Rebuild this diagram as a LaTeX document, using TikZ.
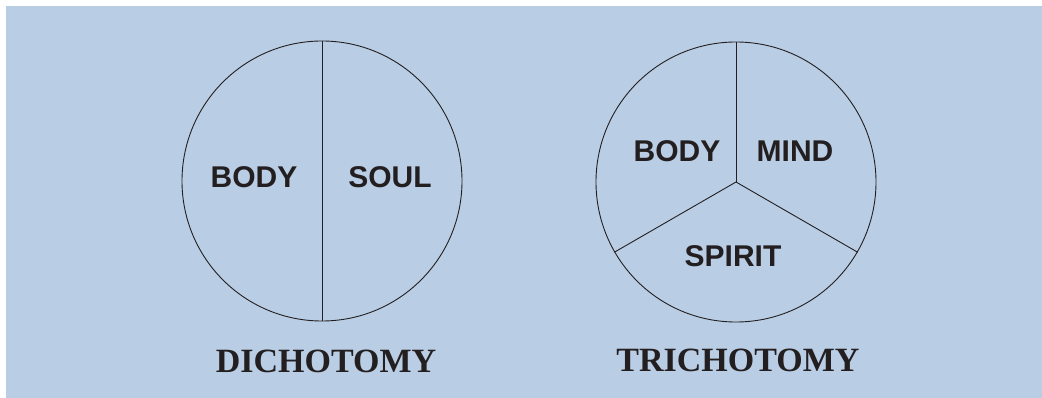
\documentclass[tikz,border=0pt]{standalone}
\usepackage{fontspec}
\setmainfont{Liberation Serif}
\newfontfamily\lsans{Liberation Sans}
\definecolor{bgblue}{HTML}{B9CDE5}
\definecolor{ink}{HTML}{231F20}
\begin{document}
\begin{tikzpicture}[x=1pt,y=-1pt,
  pie/.style={draw=ink,line width=0.9pt,circle,inner sep=0pt,minimum size=280pt},
  part/.style={text=ink,font=\lsans\bfseries\fontsize{30}{36}\selectfont,inner sep=0pt},
  title/.style={text=ink,font=\bfseries\fontsize{34}{40}\selectfont,inner sep=0pt},
  divider/.style={draw=ink,line width=0.9pt}]
\useasboundingbox (0,0) rectangle (1042,398);
\fill[bgblue] (6,6) rectangle (1042,398);
\node[pie] (c1) at (322,181) {};
\node[pie] (c2) at (736,182) {};
\draw[divider] (c1.north) -- (c1.south);
\draw[divider] (c2.center) -- (c2.90);
\draw[divider] (c2.center) -- (c2.210);
\draw[divider] (c2.center) -- (c2.330);
\node[part] (body1) at (254,177) {BODY};
\node[part] (soul) at (390,177) {SOUL};
\node[part] (body2) at (677,151) {BODY};
\node[part] (mind) at (795,151) {MIND};
\node[part] (spirit) at (733,256) {SPIRIT};
\node[title] (dich) at (326,361) {DICHOTOMY};
\node[title] (trich) at (738,360) {TRICHOTOMY};
\end{tikzpicture}
\end{document}
